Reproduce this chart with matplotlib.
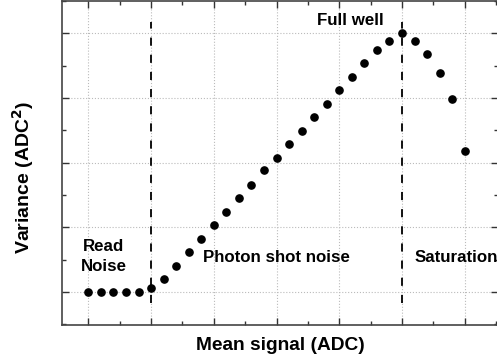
import matplotlib
matplotlib.use("Agg")
import matplotlib.pyplot as plt
from matplotlib.ticker import MultipleLocator

# mean signal vs variance, in grid units
signal = [0.0, 0.2, 0.4, 0.6, 0.8, 1.0, 1.2, 1.4, 1.6, 1.8, 2.0, 2.2, 2.4, 2.6,
          2.8, 3.0, 3.2, 3.4, 3.6, 3.8, 4.0, 4.2, 4.4, 4.6, 4.8, 5.0, 5.2, 5.4,
          5.6, 5.8, 6.0]
variance = [0.0, 0.0, 0.0, 0.0, 0.0, 0.06, 0.2, 0.4, 0.62, 0.82, 1.03, 1.23,
            1.45, 1.65, 1.88, 2.08, 2.29, 2.49, 2.71, 2.91, 3.12, 3.32, 3.54,
            3.74, 3.88, 4.0, 3.88, 3.68, 3.38, 2.98, 2.18]
boundaries = [1.0, 5.0]

plt.rcParams['font.family'] = ['Liberation Sans', 'DejaVu Sans']
plt.rcParams['font.weight'] = 'bold'

fig = plt.figure(figsize=(4.97, 3.64), dpi=100)
ax = fig.add_axes([62 / 497, 39 / 364, 436 / 497, 324 / 364])

ax.plot(signal, variance, 'o', color='black', markersize=5.2, zorder=3)
for b in boundaries:
    ax.plot([b, b], [-0.17, 4.17], color='black', linewidth=1.3,
            dashes=(4.5, 5.0), zorder=2)

ax.set_xlim(-0.42, 6.53)
ax.set_ylim(-0.51, 4.5)

ax.xaxis.set_major_locator(MultipleLocator(1))
ax.xaxis.set_minor_locator(MultipleLocator(0.5))
ax.yaxis.set_major_locator(MultipleLocator(1))
ax.yaxis.set_minor_locator(MultipleLocator(0.5))
ax.tick_params(which='both', direction='in', top=True, right=True,
               labelbottom=False, labelleft=False, color='#333333')
ax.tick_params(which='major', length=5, width=1)
ax.tick_params(which='minor', length=3, width=1)
ax.grid(True, which='major', linestyle=':', color='#bbbbbb', linewidth=0.8)
for s in ax.spines.values():
    s.set_color('#444444')
    s.set_linewidth(1.2)

ax.text(0.24, 0.55, 'Read\nNoise', ha='center', va='center', fontsize=12.2,
        fontweight='bold', linespacing=1.4)
ax.text(3.0, 0.53, 'Photon shot noise', ha='center', va='center',
        fontsize=12.2, fontweight='bold')
ax.text(5.86, 0.53, 'Saturation', ha='center', va='center', fontsize=12.2,
        fontweight='bold')
ax.text(4.18, 4.2, 'Full well', ha='center', va='center', fontsize=12.2,
        fontweight='bold')

ax.set_xlabel('Mean signal (ADC)', fontsize=13.8, fontweight='bold')
ax.xaxis.set_label_coords(0.5, -0.037)
ax.set_ylabel('Variance (ADC$^\\mathbf{2}$)', fontsize=14, fontweight='bold')
ax.yaxis.set_label_coords(-0.06, 0.457)

fig.savefig('out.png', dpi=100)
